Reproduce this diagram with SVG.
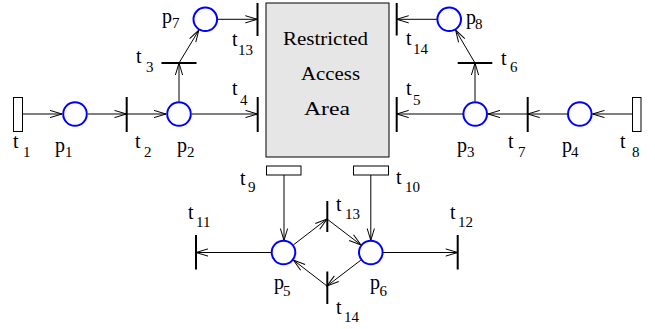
<svg xmlns="http://www.w3.org/2000/svg" width="655" height="329" viewBox="0 0 655 329">
<style>
.pl{fill:#fff;stroke:#0000ff;stroke-width:2}
.tb{stroke:#000;stroke-width:2;fill:none}
.tr{fill:#fff;stroke:#000;stroke-width:1}
.c{stroke:#000;stroke-width:1;fill:none;marker-end:url(#a)}
text{font-family:"Liberation Serif","Times New Roman",serif;fill:#000}
.l{font-size:20px}
.s{font-size:15px}
.bx{font-size:19px}
</style>
<defs>
<marker id="a" markerWidth="14" markerHeight="10" viewBox="-13 -5 14 10" refX="0" refY="0" orient="auto" markerUnits="userSpaceOnUse">
<path d="M-12,-3.6 L0,0 L-12,3.6" fill="none" stroke="#000" stroke-width="1"/>
</marker>
</defs>
<g id="area">
<rect x="266" y="3" width="123" height="154" fill="#e6e6e6" stroke="#000" stroke-width="1"/>
<text class="bx" x="283" y="45" textLength="85" lengthAdjust="spacingAndGlyphs">Restricted</text>
<text class="bx" x="301" y="80" textLength="59" lengthAdjust="spacingAndGlyphs">Access</text>
<text class="bx" x="304" y="115" textLength="46" lengthAdjust="spacingAndGlyphs">Area</text>
</g>
<g id="connectors">
<line class="c" x1="22" y1="114" x2="62" y2="114"/>
<line class="c" x1="88" y1="114" x2="126.5" y2="114"/>
<line class="c" x1="126.5" y1="114" x2="166" y2="114"/>
<line class="c" x1="192" y1="114" x2="257.5" y2="114"/>
<line class="c" x1="179" y1="101.5" x2="179" y2="63"/>
<line class="c" x1="179" y1="63" x2="198.9" y2="30.1"/>
<line class="c" x1="218" y1="19.3" x2="257.3" y2="19.3"/>
<line class="c" x1="437" y1="19.3" x2="396.7" y2="19.3"/>
<line class="c" x1="475" y1="63" x2="455.6" y2="30.1"/>
<line class="c" x1="475" y1="101.5" x2="475" y2="63"/>
<line class="c" x1="463" y1="114" x2="396.7" y2="114"/>
<line class="c" x1="527.7" y1="114" x2="488" y2="114"/>
<line class="c" x1="567.5" y1="114" x2="527.7" y2="114"/>
<line class="c" x1="632.3" y1="114" x2="592.5" y2="114"/>
<line class="c" x1="284" y1="175" x2="284" y2="240.5"/>
<line class="c" x1="370.8" y1="175" x2="370.8" y2="240.5"/>
<line class="c" x1="271.5" y1="252.5" x2="196" y2="252.5"/>
<line class="c" x1="383" y1="252.5" x2="457.7" y2="252.5"/>
<line class="c" x1="293.4" y1="244.9" x2="327" y2="219"/>
<line class="c" x1="327" y1="219" x2="360.9" y2="244.9"/>
<line class="c" x1="360.9" y1="260.1" x2="327" y2="286"/>
<line class="c" x1="327" y1="286" x2="293.4" y2="260.1"/>
</g>
<g id="t1"><rect class="tr" x="13.5" y="97.5" width="9" height="34"/><text class="l"><tspan x="13" y="148">t</tspan><tspan class="s" x="23" y="157">1</tspan></text></g>
<g id="p1"><circle class="pl" cx="75" cy="114" r="11.8"/><text class="l"><tspan x="55" y="152">p</tspan><tspan class="s" x="65" y="157">1</tspan></text></g>
<g id="t2"><line class="tb" x1="126.7" y1="97" x2="126.7" y2="132"/><text class="l"><tspan x="135" y="148">t</tspan><tspan class="s" x="144" y="157">2</tspan></text></g>
<g id="p2"><circle class="pl" cx="179" cy="114" r="11.8"/><text class="l"><tspan x="177" y="152">p</tspan><tspan class="s" x="187" y="157">2</tspan></text></g>
<g id="t3"><line class="tb" x1="161.5" y1="63" x2="196.5" y2="63"/><text class="l"><tspan x="136" y="63">t</tspan><tspan class="s" x="146" y="71.5">3</tspan></text></g>
<g id="t4"><line class="tb" x1="257.7" y1="97" x2="257.7" y2="132"/><text class="l"><tspan x="232" y="95">t</tspan><tspan class="s" x="240" y="104.5">4</tspan></text></g>
<g id="p7"><circle class="pl" cx="205.3" cy="19.3" r="11.8"/><text class="l"><tspan x="162" y="23">p</tspan><tspan class="s" x="172" y="28">7</tspan></text></g>
<g id="t13a"><line class="tb" x1="257.5" y1="3" x2="257.5" y2="36"/><text class="l"><tspan x="232" y="46">t</tspan><tspan class="s" x="238" y="55">13</tspan></text></g>
<g id="p8"><circle class="pl" cx="449.2" cy="19.3" r="11.8"/><text class="l"><tspan x="466" y="24">p</tspan><tspan class="s" x="475" y="29">8</tspan></text></g>
<g id="t14a"><line class="tb" x1="396.7" y1="3" x2="396.7" y2="35.5"/><text class="l"><tspan x="406" y="45">t</tspan><tspan class="s" x="413" y="54">14</tspan></text></g>
<g id="t6"><line class="tb" x1="457.7" y1="63" x2="492.3" y2="63"/><text class="l"><tspan x="501" y="65">t</tspan><tspan class="s" x="510" y="71.5">6</tspan></text></g>
<g id="t5"><line class="tb" x1="396.7" y1="97" x2="396.7" y2="132"/><text class="l"><tspan x="406" y="95">t</tspan><tspan class="s" x="413" y="104.5">5</tspan></text></g>
<g id="p3"><circle class="pl" cx="475.2" cy="114" r="11.8"/><text class="l"><tspan x="457" y="152">p</tspan><tspan class="s" x="467" y="157">3</tspan></text></g>
<g id="t7"><line class="tb" x1="527.7" y1="97" x2="527.7" y2="132"/><text class="l"><tspan x="508" y="148">t</tspan><tspan class="s" x="518" y="157">7</tspan></text></g>
<g id="p4"><circle class="pl" cx="579.8" cy="114" r="11.8"/><text class="l"><tspan x="562" y="152">p</tspan><tspan class="s" x="571" y="157">4</tspan></text></g>
<g id="t8"><rect class="tr" x="632.5" y="97.5" width="8.5" height="34"/><text class="l"><tspan x="620" y="148">t</tspan><tspan class="s" x="632" y="157">8</tspan></text></g>
<g id="t9"><rect class="tr" x="266.5" y="166" width="34.5" height="9"/><text class="l"><tspan x="240" y="185">t</tspan><tspan class="s" x="248" y="191.5">9</tspan></text></g>
<g id="t10"><rect class="tr" x="353.5" y="166" width="35" height="9"/><text class="l"><tspan x="396" y="184">t</tspan><tspan class="s" x="405" y="192">10</tspan></text></g>
<g id="t11"><line class="tb" x1="196" y1="235" x2="196" y2="269.5"/><text class="l"><tspan x="188" y="218.5">t</tspan><tspan class="s" x="196" y="227">11</tspan></text></g>
<g id="p5"><circle class="pl" cx="283.5" cy="252.5" r="11.8"/><text class="l"><tspan x="274" y="289">p</tspan><tspan class="s" x="283" y="296">5</tspan></text></g>
<g id="p6"><circle class="pl" cx="370.8" cy="252.5" r="11.8"/><text class="l"><tspan x="370" y="289">p</tspan><tspan class="s" x="379.5" y="296">6</tspan></text></g>
<g id="t12"><line class="tb" x1="457.7" y1="235" x2="457.7" y2="269.5"/><text class="l"><tspan x="450" y="218.5">t</tspan><tspan class="s" x="458" y="227">12</tspan></text></g>
<g id="t13b"><line class="tb" x1="327.3" y1="201" x2="327.3" y2="232"/><text class="l"><tspan x="336" y="210.5">t</tspan><tspan class="s" x="345" y="219">13</tspan></text></g>
<g id="t14b"><line class="tb" x1="327.3" y1="271.5" x2="327.3" y2="304"/><text class="l"><tspan x="336" y="313.5">t</tspan><tspan class="s" x="344" y="322">14</tspan></text></g>
</svg>
